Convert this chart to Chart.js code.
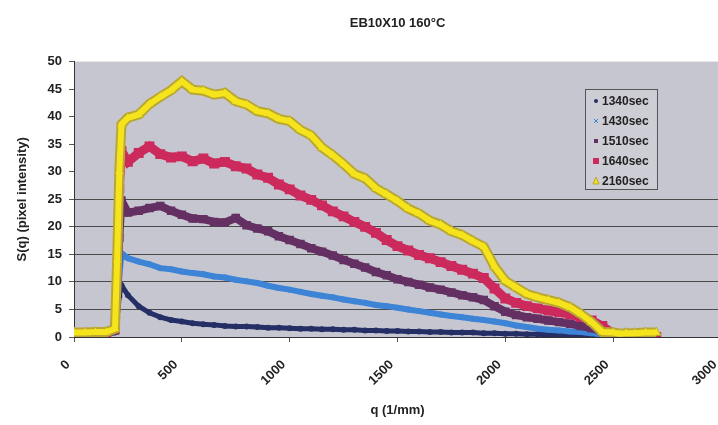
<html>
  <head>
    <title>EB10X10 160°C</title>
    <script src="https://cdn.jsdelivr.net/npm/chart.js@4.4.0/dist/chart.umd.min.js"></script>
    <style>
      body {
        margin: 0;
        overflow: hidden;
        background-color: #ffffff;
      }
    </style>
  </head>

  <body>
    <!-- the Excel plot area runs slightly past the right edge, so the canvas is a bit wider than the window -->
    <canvas id="chart" width="728" height="425"></canvas>
  </body>

  <script>
    // q values (1/mm), shared by all series
    var qValues = [0, 50, 100, 150, 190, 200, 210, 220,
      250, 300, 350, 400, 450, 500, 550, 600, 650, 700,
      750, 800, 850, 900, 950, 1000, 1050, 1100, 1150, 1200,
      1250, 1300, 1350, 1400, 1450, 1500, 1550, 1600, 1650, 1700,
      1750, 1800, 1850, 1900, 1950, 2000, 2050, 2100, 2150, 2200,
      2250, 2300, 2350, 2400, 2450, 2500,
      2530, 2560, 2600, 2650, 2700];

    var s1340 = [0.3, 0.3, 0.3, 0.4, 0.8, 3.5, 7.4, 9.4,
      7.6, 5.6, 4.4, 3.6, 3.1, 2.8, 2.5, 2.3, 2.2, 2.0,
      1.9, 1.9, 1.8, 1.7, 1.7, 1.6, 1.5, 1.5, 1.4, 1.4,
      1.3, 1.3, 1.2, 1.2, 1.1, 1.1, 1.0, 1.0, 0.9, 0.9,
      0.8, 0.8, 0.8, 0.7, 0.7, 0.6, 0.6, 0.5, 0.5, 0.4,
      0.4, 0.3, 0.3, 0.2, 0.2, 0.1,
      0, 0, 0, 0, 0];

    var s1430 = [0.4, 0.4, 0.4, 0.5, 1.0, 5.0, 11.0, 15.2,
      14.3, 13.7, 13.2, 12.5, 12.3, 11.9, 11.6, 11.4, 11.0, 10.8,
      10.4, 10.1, 9.8, 9.3, 8.9, 8.6, 8.2, 7.8, 7.5, 7.2,
      6.8, 6.5, 6.2, 5.8, 5.6, 5.3, 5.0, 4.7, 4.4, 4.1,
      3.8, 3.6, 3.3, 3.1, 2.8, 2.5, 2.1, 1.8, 1.5, 1.3,
      1.2, 1.0, 0.9, 0.7, 0.4, 0.1,
      0, 0, 0, 0, 0];

    var s1510 = [0.5, 0.5, 0.5, 0.6, 1.2, 8.0, 18.0, 24.8,
      22.6, 22.9, 23.4, 23.8, 22.9, 22.2, 21.5, 21.4, 20.9, 20.8,
      21.6, 20.3, 19.7, 19.2, 18.3, 17.6, 16.9, 16.1, 15.5, 14.8,
      14.0, 13.3, 12.6, 11.8, 11.2, 10.5, 10.0, 9.5, 9.0, 8.6,
      8.1, 7.6, 7.2, 6.7, 5.6, 4.6, 4.0, 3.6, 3.3, 3.0,
      2.7, 2.4, 2.0, 1.6, 1.0, 0.3,
      0, 0, 0, 0, 0];

    var s1640 = [0.6, 0.6, 0.6, 0.7, 1.5, 12.0, 27.0, 33.8,
      31.8, 33.4, 34.6, 33.2, 32.6, 32.8, 31.9, 32.4, 31.5, 31.8,
      31.0, 30.6, 29.5, 28.9, 27.7, 26.8, 25.7, 24.9, 23.9, 22.8,
      21.9, 20.9, 20.0, 18.9, 17.6, 16.5, 15.7, 14.9, 14.3, 13.6,
      12.9, 12.2, 11.5, 10.7, 8.8, 7.0, 6.2, 5.6, 5.2, 4.8,
      4.5, 4.1, 3.6, 3.0, 2.0, 0.6,
      0, 0, 0, 0, 0];

    var s2160 = [0.8, 0.8, 0.9, 0.9, 1.5, 14.0, 30.0, 38.6,
      39.8, 40.4, 42.3, 43.6, 44.8, 46.4, 44.9, 44.7, 44.0, 44.3,
      42.8, 42.2, 41.0, 40.6, 39.6, 39.2, 37.6, 36.6, 34.4, 33.0,
      31.4, 29.6, 28.8, 27.0, 25.9, 24.7, 23.3, 22.4, 21.1, 20.4,
      19.2, 18.5, 17.4, 16.4, 12.8, 10.2, 9.0, 7.8, 7.2, 6.7,
      6.2, 5.4, 4.2, 2.7, 0.9, 0.8,
      0.6, 0.7, 0.7, 0.8, 0.8];

    var seriesLabels = ['1340sec', '1430sec', '1510sec', '1640sec', '2160sec'];
    var seriesColors = ['#252f66', '#3d84d6', '#642f62', '#cc2a5c', '#f5e41c'];
    var yellowEdge = '#b9a733';

    var FONT = 'Arial, "Liberation Sans", sans-serif';

    function pts(ys) {
      var out = [];
      for (i = 0; i < qValues.length; i++) {
        out.push({ x: qValues[i], y: ys[i] });
      }
      return out;
    }

    // gray plot area
    var plotBg = {
      id: 'plotBg',
      beforeDraw: function (chart) {
        var a = chart.chartArea;
        var ctx = chart.ctx;
        ctx.save();
        ctx.fillStyle = '#c6c6d0';
        ctx.fillRect(a.left, a.top, a.right - a.left, a.bottom - a.top);
        ctx.restore();
      }
    };

    // legend box inside the plot, like the Excel one
    var boxLegend = {
      id: 'boxLegend',
      afterDatasetsDraw: function (chart) {
        var ctx = chart.ctx;
        ctx.save();
        ctx.fillStyle = '#cdcdd5';
        ctx.strokeStyle = '#555555';
        ctx.lineWidth = 1;
        ctx.fillRect(585.5, 89.5, 72, 100);
        ctx.strokeRect(585.5, 89.5, 72, 100);
        ctx.font = 'bold 12px ' + FONT;
        ctx.textBaseline = 'middle';
        for (i = 0; i < seriesLabels.length; i++) {
          var y = 101 + i * 20;
          var x = 596;
          ctx.fillStyle = seriesColors[i];
          ctx.beginPath();
          if (i == 0) {
            ctx.arc(x, y, 2, 0, Math.PI * 2);
            ctx.fill();
          } else if (i == 1) {
            ctx.strokeStyle = seriesColors[i];
            ctx.moveTo(x - 2, y - 2); ctx.lineTo(x + 2, y + 2);
            ctx.moveTo(x + 2, y - 2); ctx.lineTo(x - 2, y + 2);
            ctx.stroke();
          } else if (i == 2) {
            ctx.fillRect(x - 2, y - 2, 4, 4);
          } else if (i == 3) {
            ctx.fillRect(x - 3, y - 3, 6, 6);
          } else {
            ctx.moveTo(x, y - 4); ctx.lineTo(x + 3, y + 3); ctx.lineTo(x - 3, y + 3);
            ctx.closePath();
            ctx.fill();
            ctx.strokeStyle = yellowEdge;
            ctx.stroke();
          }
          ctx.fillStyle = '#222222';
          ctx.fillText(seriesLabels[i], 602, y + 1);
        }
        ctx.restore();
      }
    };

    new Chart(document.getElementById('chart'), {
      type: 'scatter',
      data: {
        datasets: [
          {
            label: seriesLabels[4] + ' core',
            data: pts(s2160),
            showLine: true, order: 0,
            borderColor: seriesColors[4], borderWidth: 6,
            pointRadius: 0
          },
          {
            label: seriesLabels[4],
            data: pts(s2160),
            showLine: true, order: 1,
            borderColor: yellowEdge, borderWidth: 10,
            pointStyle: 'triangle', pointRadius: 5.5,
            pointBackgroundColor: seriesColors[4], pointBorderColor: yellowEdge, pointBorderWidth: 1
          },
          {
            label: seriesLabels[3],
            data: pts(s1640),
            showLine: true, order: 2,
            borderColor: seriesColors[3], borderWidth: 9,
            pointStyle: 'rect', pointRadius: 7,
            pointBackgroundColor: seriesColors[3], pointBorderWidth: 0
          },
          {
            label: seriesLabels[2],
            data: pts(s1510),
            showLine: true, order: 3,
            borderColor: seriesColors[2], borderWidth: 8,
            pointStyle: 'rect', pointRadius: 6,
            pointBackgroundColor: seriesColors[2], pointBorderWidth: 0
          },
          {
            label: seriesLabels[1],
            data: pts(s1430),
            showLine: true, order: 4,
            borderColor: seriesColors[1], borderWidth: 6,
            pointRadius: 3,
            pointBackgroundColor: seriesColors[1], pointBorderWidth: 0
          },
          {
            label: seriesLabels[0],
            data: pts(s1340),
            showLine: true, order: 5,
            borderColor: seriesColors[0], borderWidth: 5,
            pointRadius: 3,
            pointBackgroundColor: seriesColors[0], pointBorderWidth: 0
          }
        ]
      },
      options: {
        responsive: false,
        animation: false,
        layout: { padding: 0 },
        plugins: {
          legend: { display: false },
          tooltip: { enabled: false },
          title: {
            display: true,
            text: 'EB10X10 160°C',
            fullSize: false,
            color: '#222222',
            font: { family: FONT, size: 13, weight: 'bold' },
            padding: { top: 16, bottom: 30 }
          }
        },
        scales: {
          x: {
            type: 'linear',
            min: 0, max: 3000,
            ticks: {
              stepSize: 500, minRotation: 45, maxRotation: 45,
              color: '#222222', padding: 15, labelOffset: -6,
              font: { family: FONT, size: 13, weight: 'bold' },
              callback: function (v) { return String(v); }
            },
            grid: { drawOnChartArea: false, tickLength: 5, tickColor: '#555555' },
            border: { color: '#333333' },
            title: {
              display: true, text: 'q (1/mm)', color: '#222222',
              font: { family: FONT, size: 13, weight: 'bold' },
              padding: { top: 0, bottom: 7 }
            },
            afterFit: function (s) {
              s.height = 88;
              s.paddingLeft = 0;
              s.paddingRight = 0;
            }
          },
          y: {
            min: 0, max: 50,
            ticks: {
              stepSize: 5, padding: 7, color: '#222222',
              font: { family: FONT, size: 13, weight: 'bold' }
            },
            grid: {
              tickLength: 5, tickColor: '#555555',
              color: function (c) {
                var v = c.tick.value;
                return (v >= 5 && v <= 25) ? '#4a4a4a' : 'rgba(0,0,0,0)';
              }
            },
            border: { color: '#333333' },
            title: {
              display: true, text: 'S(q) (pixel intensity)', color: '#222222',
              font: { family: FONT, size: 13, weight: 'bold' },
              padding: { top: 15, bottom: 0 }
            },
            afterFit: function (s) { s.width = 74; }
          }
        }
      },
      plugins: [plotBg, boxLegend]
    });
  </script>

</html>
